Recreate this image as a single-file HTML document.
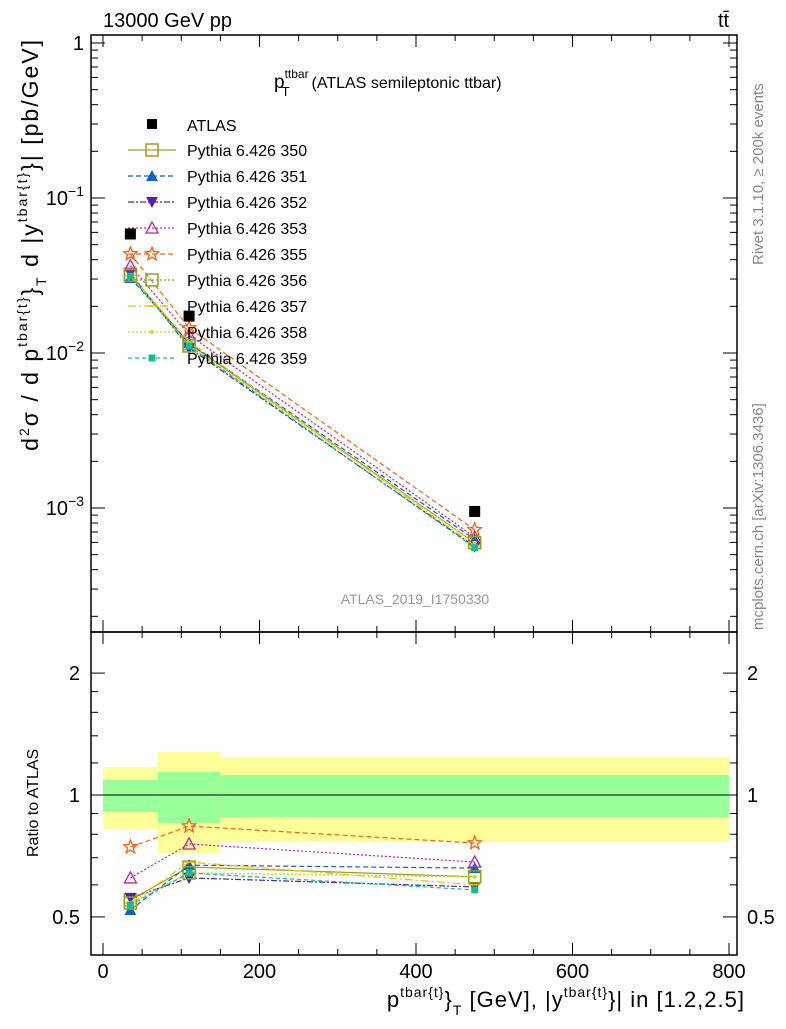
<!DOCTYPE html>
<html><head><meta charset="utf-8"><style>
body{margin:0;background:#fff;}
svg text{font-family:"Liberation Sans",sans-serif;}
</style></head><body>
<svg id="c" width="786" height="1024" xmlns="http://www.w3.org/2000/svg">
</svg>
<script>
const xCenters=[35,110,475];
const binEdges=[0,70,150,800];
const atlasVals=[0.0586,0.0173,0.00095];
const yellowLo=[0.824,0.719,0.765];
const yellowHi=[1.172,1.277,1.241];
const greenLo=[0.908,0.853,0.882];
const greenHi=[1.089,1.14,1.12];
const seriesNames=["Pythia 6.426 350","Pythia 6.426 351","Pythia 6.426 352","Pythia 6.426 353","Pythia 6.426 355","Pythia 6.426 356","Pythia 6.426 357","Pythia 6.426 358","Pythia 6.426 359"];
const r350=[0.55,0.664,0.628];
const r351=[0.52,0.671,0.66];
const r352=[0.557,0.624,0.593];
const r353=[0.624,0.757,0.683];
const r355=[0.744,0.838,0.761];
const r356=[0.541,0.642,0.628];
const r357=[0.541,0.683,0.60];
const r358=[0.541,0.642,0.628];
const r359=[0.535,0.642,0.583];
const ratios=[r350,r351,r352,r353,r355,r356,r357,r358,r359];
const xTicks=[0,200,400,600,800];
const ratioTicks=[0.5,1,2];

const S=document.getElementById('c');const NS='http://www.w3.org/2000/svg';
function mk(t,a,p){const e=document.createElementNS(NS,t);for(const k in a)e.setAttribute(k,a[k]);(p||S).appendChild(e);return e;}
const L=91,R=737,T=35,M=632,B=955;
const X=v=>103+(v)*(729-103)/800;
const YM=v=>43-Math.log10(v)*155;
const YR=v=>795-Math.log10(v)*405;
const styles=[
 {c:'#a0a020',d:'',m:'sqo'},{c:'#1560c0',d:'5,3',m:'tri'},{c:'#5020b0',d:'6,2,2,2',m:'tridn'},
 {c:'#c020a0',d:'2,2',m:'trio'},{c:'#ff6010',d:'5,3',m:'star'},{c:'#90a020',d:'2,2',m:'sqo'},
 {c:'#f0c000',d:'8,3,2,3',m:'dash'},{c:'#c8e020',d:'2,2',m:'dot'},{c:'#10c090',d:'4,3',m:'sq'}];
function marker(g,m,x,y,c){
 if(m==='sqo')mk('rect',{x:x-6,y:y-6,width:12,height:12,fill:'none',stroke:c,'stroke-width':1.5},g);
 else if(m==='sq')mk('rect',{x:x-3.5,y:y-3.5,width:7,height:7,fill:c},g);
 else if(m==='tri')mk('path',{d:`M${x},${y-6}L${x+6},${y+5}L${x-6},${y+5}Z`,fill:c},g);
 else if(m==='tridn')mk('path',{d:`M${x},${y+6}L${x+6},${y-5}L${x-6},${y-5}Z`,fill:c},g);
 else if(m==='trio')mk('path',{d:`M${x},${y-6}L${x+6},${y+5}L${x-6},${y+5}Z`,fill:'none',stroke:c,'stroke-width':1.3},g);
 else if(m==='star'){let p='';for(let i=0;i<10;i++){const r=i%2?3:7,a=-Math.PI/2+i*Math.PI/5;p+=(i?'L':'M')+(x+r*Math.cos(a))+','+(y+r*Math.sin(a));}mk('path',{d:p+'Z',fill:'none',stroke:c,'stroke-width':1.3},g);}
 else if(m==='dot')mk('circle',{cx:x,cy:y,r:2,fill:c},g);
 else if(m==='dash')mk('line',{x1:x-5,y1:y,x2:x+5,y2:y,stroke:c,'stroke-width':1.5},g);
}
const bands=mk('g',{});


for(let i=0;i<3;i++){
 const x1=X(binEdges[i]),x2=Math.min(X(binEdges[i+1]),R);
 mk('rect',{x:x1,y:YR(yellowHi[i]),width:x2-x1,height:YR(yellowLo[i])-YR(yellowHi[i]),fill:'#ffff99'},bands);
 mk('rect',{x:x1,y:YR(greenHi[i]),width:x2-x1,height:YR(greenLo[i])-YR(greenHi[i]),fill:'#99ff99'},bands);
}
mk('line',{x1:L,y1:YR(1),x2:R,y2:YR(1),stroke:'#000','stroke-width':1});
ratios.forEach((rs,si)=>{
 const st=styles[si];
 const gm=mk('g',{});
 const pm=xCenters.map((x,i)=>X(x)+','+YM(rs[i]*atlasVals[i])).join(' ');
 mk('polyline',{points:pm,fill:'none',stroke:st.c,'stroke-width':1.2,'stroke-dasharray':st.d},gm);
 const pr=xCenters.map((x,i)=>X(x)+','+YR(rs[i])).join(' ');
 mk('polyline',{points:pr,fill:'none',stroke:st.c,'stroke-width':1.2,'stroke-dasharray':st.d},gm);
 xCenters.forEach((x,i)=>{marker(gm,st.m,X(x),YM(rs[i]*atlasVals[i]),st.c);marker(gm,st.m,X(x),YR(rs[i]),st.c);});
});
const ga=mk('g',{});
xCenters.forEach((x,i)=>mk('rect',{x:X(x)-5.5,y:YM(atlasVals[i])-5.5,width:11,height:11,fill:'#000'},ga));
mk('rect',{x:L,y:T,width:R-L,height:M-T,fill:'none',stroke:'#000','stroke-width':1.5});
mk('rect',{x:L,y:M,width:R-L,height:B-M,fill:'none',stroke:'#000','stroke-width':1.5});
for(let v=0;v<=800;v+=50){const big=v%200===0,l=big?12:6,x=X(v);
 [[T,1],[M,-1],[M,1],[B,-1]].forEach(([y,d])=>mk('line',{x1:x,y1:y,x2:x,y2:y+d*l,stroke:'#000'}));}
xTicks.forEach(v=>{const t=mk('text',{x:X(v),y:978,'font-size':20,'text-anchor':'middle'});t.textContent=v;});
for(let e=-4;e<=0;e++)for(let k=1;k<10;k++){const v=k*Math.pow(10,e);if(v>1.05)continue;const y=YM(v);if(y>M||y<T)continue;const l=k===1?14:7;
 mk('line',{x1:L,y1:y,x2:L+l,y2:y,stroke:'#000'});mk('line',{x1:R,y1:y,x2:R-l,y2:y,stroke:'#000'});}
[[0,'1',''],[-1,'10','−1'],[-2,'10','−2'],[-3,'10','−3']].forEach(([e,b,s])=>{const t=mk('text',{x:84,y:YM(Math.pow(10,e))+7,'font-size':20,'text-anchor':'end'});
 t.innerHTML=b+(s?'<tspan dy="-9" font-size="14">'+s+'</tspan>':'');});
[0.4,0.5,0.6,0.7,0.8,0.9,1,2,3].forEach(v=>{const y=YR(v);if(y<M||y>B)return;const l=(v===0.5||v===1||v===2)?14:7;
 mk('line',{x1:L,y1:y,x2:L+l,y2:y,stroke:'#000'});mk('line',{x1:R,y1:y,x2:R-l,y2:y,stroke:'#000'});});
[1.2,1.4,1.6,1.8].forEach(v=>{const y=YR(v);mk('line',{x1:L,y1:y,x2:L+7,y2:y,stroke:'#000'});mk('line',{x1:R,y1:y,x2:R-7,y2:y,stroke:'#000'});});
ratioTicks.forEach(v=>{const t1=mk('text',{x:80,y:YR(v)+7,'font-size':20,'text-anchor':'end'});t1.textContent=v;
 const t2=mk('text',{x:747,y:YR(v)+7,'font-size':20});t2.textContent=v;});
const lg=mk('g',{});
mk('rect',{x:147,y:119,width:10,height:10,fill:'#000'},lg);
const at=mk('text',{x:187,y:131,'font-size':16},lg);at.textContent='ATLAS';
seriesNames.forEach((n,i)=>{const y=150+i*26,st=styles[i];
 mk('line',{x1:128,y1:y,x2:176,y2:y,stroke:st.c,'stroke-width':1.2,'stroke-dasharray':st.d},lg);
 marker(lg,st.m,152,y,st.c);
 const t=mk('text',{x:187,y:y+6,'font-size':16},lg);t.textContent=n;});
</script>
<svg width="786" height="1024" style="position:absolute;left:0;top:0" xmlns="http://www.w3.org/2000/svg">
<text x="103" y="27" font-size="20">13000 GeV pp</text>
<text x="718" y="27" font-size="20">tt̄</text>
<text x="274" y="88" font-size="19">p<tspan dy="-10" font-size="12">ttbar</tspan><tspan dy="18" dx="-27" font-size="13">T</tspan><tspan dy="-8" dx="22" font-size="16">(ATLAS semileptonic ttbar)</tspan></text>
<text x="415" y="604" font-size="14" fill="#999" text-anchor="middle">ATLAS_2019_I1750330</text>
<text transform="translate(763,265) rotate(-90)" font-size="15" fill="#888">Rivet 3.1.10, ≥ 200k events</text>
<text transform="translate(763,630) rotate(-90)" font-size="15" fill="#888">mcplots.cern.ch [arXiv:1306.3436]</text>
<text transform="translate(38,38) rotate(-90)" font-size="23" letter-spacing="2" text-anchor="end">d<tspan dy="-9" font-size="14">2</tspan><tspan dy="9">σ / d p</tspan><tspan dy="-11" font-size="14">tbar{t}</tspan><tspan dy="11">}</tspan><tspan dy="8" font-size="14">T</tspan><tspan dy="-8"> d |y</tspan><tspan dy="-11" font-size="14">tbar{t}</tspan><tspan dy="11">}| [pb/GeV]</tspan></text>
<text transform="translate(38,857) rotate(-90)" font-size="16">Ratio to ATLAS</text>
<text x="745" y="1007" font-size="22" letter-spacing="1" text-anchor="end">p<tspan dy="-10" font-size="14">tbar{t}</tspan><tspan dy="10">}</tspan><tspan dy="8" font-size="14">T</tspan><tspan dy="-8"> [GeV], |y</tspan><tspan dy="-10" font-size="14">tbar{t}</tspan><tspan dy="10">}| in [1.2,2.5]</tspan></text>
</svg>
</body></html>
